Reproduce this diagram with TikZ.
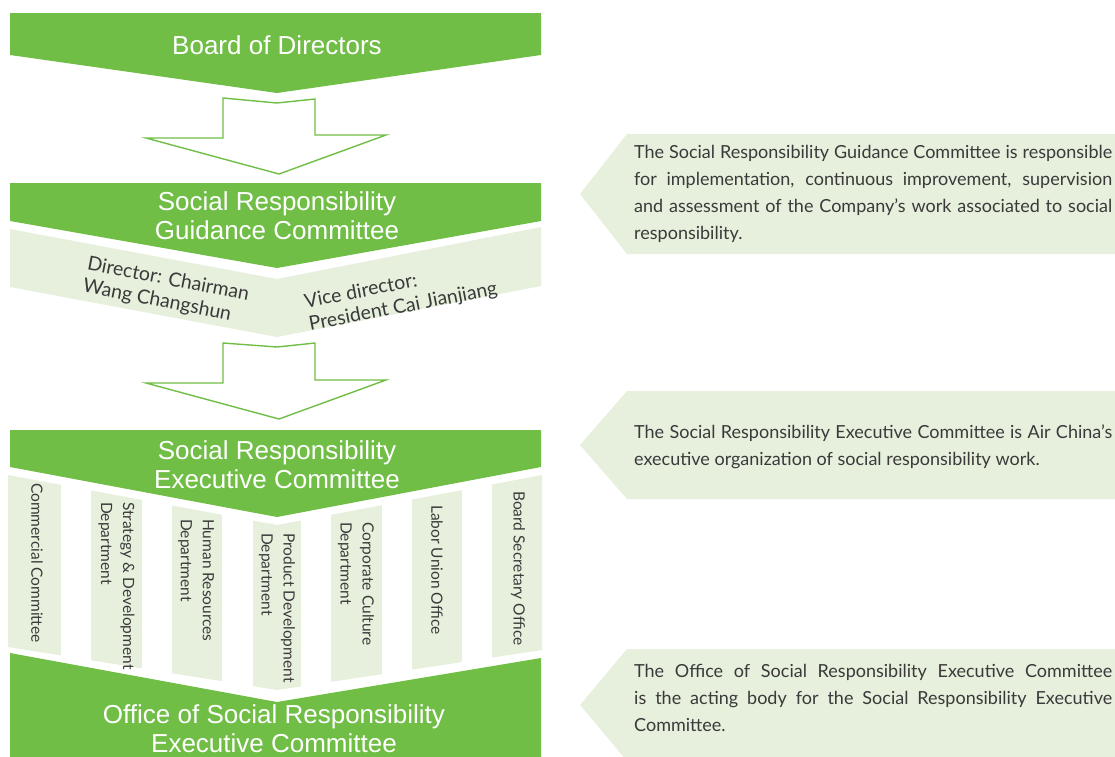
\documentclass[tikz,border=0pt]{standalone}
\usepackage{fontspec}
\setmainfont{Liberation Sans}
\newfontfamily\grayfont{Lato}
\definecolor{gr}{RGB}{112,190,69}
\definecolor{lg}{RGB}{230,240,221}
\definecolor{tx}{RGB}{58,58,58}
\newcommand{\jline}[1]{\makebox[478pt][s]{#1}}
\begin{document}
\begin{tikzpicture}[x=1pt,y=-1pt,
  title/.style={text=white, font=\fontsize{26}{29}\selectfont, align=center, inner sep=0pt},
  sub/.style={text=tx, font=\grayfont\fontsize{19.5}{23}\selectfont, align=left, inner sep=0pt},
  dept/.style={text=tx, font=\grayfont\fontsize{15.5}{22}\selectfont, align=left, rotate=-90, anchor=west, inner sep=0pt},
  note/.style={text=tx, font=\grayfont\fontsize{18}{27.3}\selectfont, anchor=base west, inner sep=0pt},
  chev/.style={fill=gr, draw=none},
  band/.style={fill=lg, draw=none},
  hollow/.style={draw=gr, line width=1.4pt, fill=white, line join=miter}]
\useasboundingbox (0,0) rectangle (1115,756);

% Board of Directors
\fill[chev] (10,13) -- (541,13) -- (541,55) -- (277,93) -- (10,55) -- cycle;
\node[title] (board) at (277,45) {Board of Directors};

% hollow arrow 1
\draw[hollow] (223,98) -- (277,103) -- (315,99) -- (315,135) -- (386,135) -- (279,174) -- (146,138) -- (223,138) -- cycle;

% Guidance committee
\fill[band] (10,229) -- (277,279) -- (541,227) -- (541,286) -- (277,337) -- (10,287) -- cycle;
\fill[chev] (10,183) -- (541,183) -- (541,221) -- (277,268) -- (10,221) -- cycle;
\node[title] (guid) at (277,216) {Social Responsibility\\Guidance Committee};
\node[sub, rotate=-11] (dir) at (166,291) {Director: Chairman\\Wang Changshun};
\node[sub, rotate=11] (vice) at (401,296) {Vice director:\\President Cai Jianjiang};

% hollow arrow 2
\draw[hollow] (223,343) -- (277,347) -- (315,343) -- (315,380) -- (386,380) -- (279,419) -- (146,383) -- (223,383) -- cycle;

% department strips
\fill[band] (8,475) -- (277,525) -- (542,475) -- (542,650) -- (277,690) -- (8,647) -- cycle;
\foreach \a/\b in {61/91,142/172,222/253,301/331,382/412,462/492}
  \fill[white] (\a,470) rectangle (\b,700);

% Executive committee
\fill[chev] (10,430) -- (541,430) -- (541,467) -- (277,517) -- (10,467) -- cycle;
\node[title] (exec) at (277,465) {Social Responsibility\\Executive Committee};

\node[dept] (d1) at (37,483) {Commercial Committee};
\node[dept] (d2) at (116.5,502) {Strategy \& Development\\Department};
\node[dept] (d3) at (196,519) {Human Resources\\Department};
\node[dept] (d4) at (277,533) {Product Development\\Department};
\node[dept] (d5) at (356,522) {Corporate Culture\\Department};
\node[dept] (d6) at (437,505) {Labor Union Office};
\node[dept] (d7) at (518,491) {Board Secretary Office};

% Office
\fill[chev] (10,653) -- (277,702) -- (541,658) -- (541,760) -- (10,760) -- cycle;
\node[title] (office) at (274,729) {Office of Social Responsibility\\Executive Committee};

% callouts
\fill[band] (627,134) -- (1115,134) -- (1115,254) -- (627,254) -- (580,194) -- cycle;
\node[note] (n1) at (634,158) {\parbox[t]{478pt}{\jline{The Social Responsibility Guidance Committee is responsible}\\
\jline{for implementation, continuous improvement, supervision}\\
\jline{and assessment of the Company’s work associated to social}\\
responsibility.}};

\fill[band] (627,391) -- (1115,391) -- (1115,499) -- (627,499) -- (580,445) -- cycle;
\node[note] (n2) at (634,438) {\parbox[t]{478pt}{\jline{The Social Responsibility Executive Committee is Air China’s}\\
executive organization of social responsibility work.}};

\fill[band] (627,649) -- (1115,649) -- (1115,761) -- (627,761) -- (580,705) -- cycle;
\node[note] (n3) at (634,677) {\parbox[t]{478pt}{\jline{The Office of Social Responsibility Executive Committee}\\
\jline{is the acting body for the Social Responsibility Executive}\\
Committee.}};
\end{tikzpicture}
\end{document}
